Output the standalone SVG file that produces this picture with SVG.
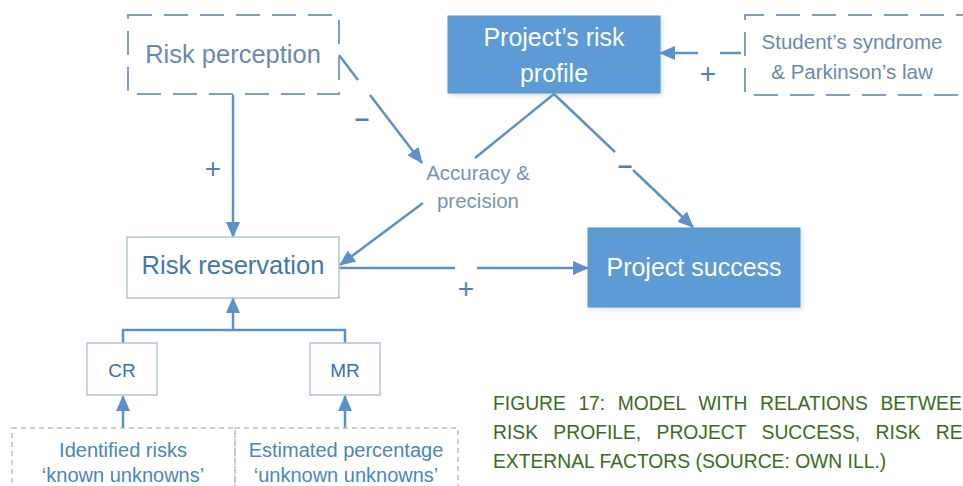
<svg xmlns="http://www.w3.org/2000/svg" width="963" height="486" viewBox="0 0 963 486">
<defs>
<marker id="arr" viewBox="0 0 16 14" markerUnits="userSpaceOnUse" markerWidth="16" markerHeight="14" refX="15" refY="7" orient="auto">
<path d="M0,0 L16,7 L0,14 z" fill="#5B90C8"/>
</marker>
<filter id="sh" x="-5%" y="-5%" width="115%" height="120%">
<feDropShadow dx="2" dy="2" stdDeviation="2" flood-color="#8aa" flood-opacity="0.35"/>
</filter>
</defs>
<style>
text{font-family:"Liberation Sans",Arial,sans-serif;text-anchor:middle}
.blue{fill:#5B9BD5;stroke:#5A94CC;stroke-width:1}
.plain{fill:#fff;stroke:#AFC3D6;stroke-width:1.5}
.dash{fill:none;stroke:#7F9DBE;stroke-width:2;stroke-dasharray:24 12}
.dot{fill:none;stroke:#B3C0CC;stroke-width:1.5;stroke-dasharray:5 4}
.wt{fill:#fff;font-size:25px}
.gt{fill:#6C89AA;font-size:25.5px}
.sign{fill:#527FAE;font-size:28px}
.minus{fill:#527FAE;font-size:26px;font-weight:bold}
.con{fill:none;stroke:#5B90C8;stroke-width:2.5}
.cap{fill:#3B6A22;font-size:19.3px;text-anchor:start}
</style>
<rect width="963" height="486" fill="#fff"/>
<g id="connectors">
<path class="con" d="M233,95 V237" marker-end="url(#arr)"/>
<path class="con" d="M339,55 L358,80"/>
<path class="con" d="M370,95 L422,163" marker-end="url(#arr)"/>
<path class="con" d="M423,203 L340,265" marker-end="url(#arr)"/>
<path class="con" d="M554,94 L475,158"/>
<path class="con" d="M554,94 L615,152"/>
<path class="con" d="M633,170 L693,227" marker-end="url(#arr)"/>
<path class="con" d="M741,53 L720,53"/>
<path class="con" d="M698,53 L660,53" marker-end="url(#arr)"/>
<path class="con" d="M339,268 L455,268"/>
<path class="con" d="M477,268 L588,268" marker-end="url(#arr)"/>
<path class="con" d="M123,343 V330 H345 V343"/>
<path class="con" d="M233,330 V298" marker-end="url(#arr)"/>
<path class="con" d="M123,428 V396" marker-end="url(#arr)"/>
<path class="con" d="M345,428 V396" marker-end="url(#arr)"/>
<text class="minus" x="362" y="127">–</text>
<text class="sign" x="213" y="178">+</text>
<text class="sign" x="466" y="298">+</text>
<text class="minus" x="625" y="174">–</text>
<text class="sign" x="708" y="83">+</text>
</g>
<g id="risk-perception">
<rect class="dash" x="128" y="15" width="211" height="79"/>
<text class="gt" x="233" y="63">Risk perception</text>
</g>
<g id="project-risk-profile">
<rect class="blue" x="448" y="16" width="212" height="77" filter="url(#sh)"/>
<text class="wt" x="554" y="46">Project’s risk</text>
<text class="wt" x="554" y="82">profile</text>
</g>
<g id="student-syndrome">
<path class="dash" d="M980,15 H745 V95 H980"/>
<text x="852" y="49" style="fill:#6C89AA;font-size:20.5px">Student’s syndrome</text>
<text x="852" y="79" style="fill:#6C89AA;font-size:20.5px">&amp; Parkinson’s law</text>
</g>
<g id="accuracy-precision">
<text x="478" y="180" style="fill:#7A93AE;font-size:20.5px">Accuracy &amp;</text>
<text x="478" y="208" style="fill:#7A93AE;font-size:20.5px">precision</text>
</g>
<g id="risk-reservation">
<rect class="plain" x="127" y="237" width="212" height="61"/>
<text x="233" y="274" style="fill:#3F78AA;font-size:25.5px">Risk reservation</text>
</g>
<g id="project-success">
<rect class="blue" x="588" y="228" width="212" height="79" filter="url(#sh)"/>
<text class="wt" x="694" y="276">Project success</text>
</g>
<g id="cr">
<rect class="plain" x="87" y="343" width="70" height="52"/>
<text x="122" y="377" style="fill:#40709F;font-size:19px">CR</text>
</g>
<g id="mr">
<rect class="plain" x="310" y="343" width="70" height="52"/>
<text x="345" y="377" style="fill:#40709F;font-size:19px">MR</text>
</g>
<g id="identified-risks">
<rect class="dot" x="12" y="428" width="223" height="70"/>
<text x="123" y="457" style="fill:#4A86BA;font-size:20px">Identified risks</text>
<text x="123" y="482" style="fill:#4A86BA;font-size:20px">‘known unknowns’</text>
</g>
<g id="estimated-percentage">
<rect class="dot" x="235" y="428" width="223" height="70"/>
<text x="346" y="457" style="fill:#4A86BA;font-size:20px">Estimated percentage</text>
<text x="346" y="482" style="fill:#4A86BA;font-size:20px">‘unknown unknowns’</text>
</g>
<g id="caption">
<text class="cap" x="493" y="410" word-spacing="7.2">FIGURE 17: MODEL WITH RELATIONS BETWEE</text>
<text class="cap" x="493" y="439" word-spacing="10">RISK PROFILE, PROJECT SUCCESS, RISK RE</text>
<text class="cap" x="493" y="468">EXTERNAL FACTORS (SOURCE: OWN ILL.)</text>
</g>
</svg>
